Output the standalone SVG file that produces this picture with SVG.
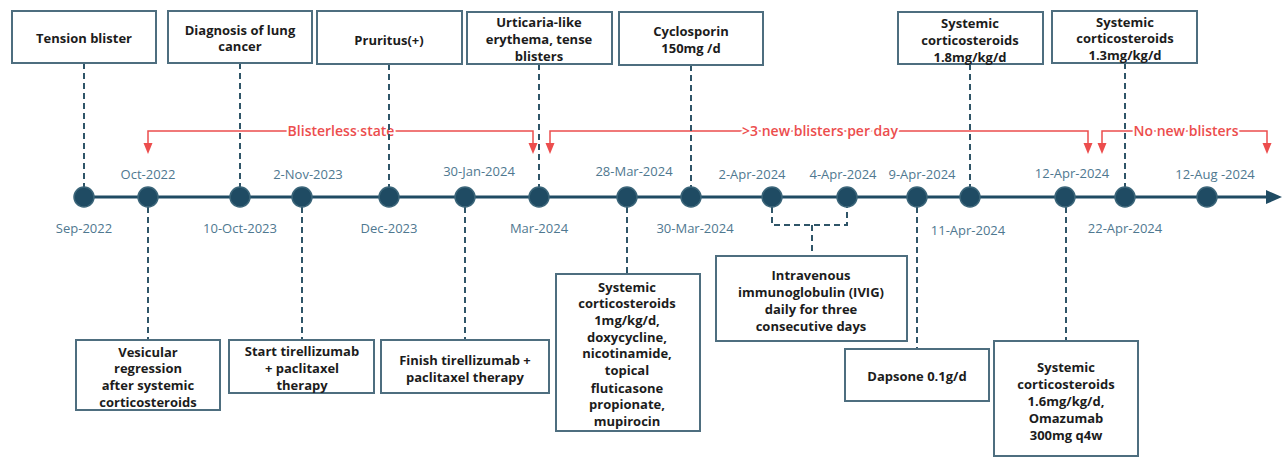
<svg xmlns="http://www.w3.org/2000/svg" xmlns:xlink="http://www.w3.org/1999/xlink" width="1282" height="458" viewBox="0 0 1282 458">
<style>
.box{fill:#fff;stroke:#4e6e7f;stroke-width:2}
.bt{font-family:"Open Sans","Liberation Sans",sans-serif;font-weight:700;font-size:13px;fill:#1c1c1c;text-anchor:middle}
.dl{font-family:"Open Sans","Liberation Sans",sans-serif;font-size:13px;fill:#4f7890;text-anchor:middle}
.dash{fill:none;stroke:#2f5568;stroke-width:2;stroke-dasharray:6 4}
.node{fill:#1f4b63;stroke:#3b6579;stroke-width:1.5}
.red{fill:none;stroke:#ec4d4d;stroke-width:1.5}
.rt{font-family:"Open Sans","Liberation Sans",sans-serif;font-weight:600;font-size:14px;fill:#ec4d4d;text-anchor:middle;stroke:#fff;stroke-width:4;paint-order:stroke}
</style>
<defs>
<path id="ah" d="M-4.5,0 L4.5,0 L0,11 Z" fill="#ec4d4d"/>
</defs>
<rect width="1282" height="458" fill="#fff"/>

<g id="connectors">
<g id="periods">
<path class="red" d="M148,144 V131 H533 V144"/>
<path class="red" d="M550,144 V131 H1088 V144"/>
<path class="red" d="M1102,144 V131 H1267 V144"/>
<use xlink:href="#ah" x="148" y="143"/>
<use xlink:href="#ah" x="533" y="143"/>
<use xlink:href="#ah" x="550" y="143"/>
<use xlink:href="#ah" x="1088" y="143"/>
<use xlink:href="#ah" x="1102" y="143"/>
<use xlink:href="#ah" x="1267" y="143"/>
<text class="rt" x="341" y="136">Blisterless state</text>
<text class="rt" x="820" y="136">&gt;3 new blisters per day</text>
<text class="rt" x="1186" y="136">No new blisters</text>
</g>
<path class="dash" d="M84,63 V188"/>
<path class="dash" d="M240,63 V188"/>
<path class="dash" d="M389,64 V188"/>
<path class="dash" d="M539,64 V188"/>
<path class="dash" d="M691,65 V188"/>
<path class="dash" d="M970,64 V188"/>
<path class="dash" d="M1125,63 V188"/>
<path class="dash" d="M148,207 V340"/>
<path class="dash" d="M302,207 V340"/>
<path class="dash" d="M465,207 V340"/>
<path class="dash" d="M627,207 V274"/>
<path class="dash" d="M772,207 V225 H847 V207"/>
<path class="dash" d="M812,225 V256"/>
<path class="dash" d="M917,207 V349"/>
<path class="dash" d="M1066,207 V341"/>
</g>

<g id="timeline">
<line x1="84" y1="197" x2="1270" y2="197" stroke="#1f4b63" stroke-width="3"/>
<polygon points="1266,190 1282,197 1266,204" fill="#1f4b63"/>
</g>

<g id="n-sep2022"><circle class="node" cx="84" cy="197" r="10"/><text class="dl" x="84" y="233">Sep-2022</text></g>
<g id="n-oct2022"><circle class="node" cx="148" cy="197" r="10"/><text class="dl" x="148" y="179">Oct-2022</text></g>
<g id="n-10oct2023"><circle class="node" cx="240" cy="197" r="10"/><text class="dl" x="240" y="233">10-Oct-2023</text></g>
<g id="n-2nov2023"><circle class="node" cx="302" cy="197" r="10"/><text class="dl" x="308" y="179">2-Nov-2023</text></g>
<g id="n-dec2023"><circle class="node" cx="389" cy="197" r="10"/><text class="dl" x="389" y="233">Dec-2023</text></g>
<g id="n-30jan2024"><circle class="node" cx="465" cy="197" r="10"/><text class="dl" x="479" y="176">30-Jan-2024</text></g>
<g id="n-mar2024"><circle class="node" cx="539" cy="197" r="10"/><text class="dl" x="539" y="233">Mar-2024</text></g>
<g id="n-28mar2024"><circle class="node" cx="627" cy="197" r="10"/><text class="dl" x="634" y="176">28-Mar-2024</text></g>
<g id="n-30mar2024"><circle class="node" cx="691" cy="197" r="10"/><text class="dl" x="695" y="233">30-Mar-2024</text></g>
<g id="n-2apr2024"><circle class="node" cx="772" cy="197" r="10"/><text class="dl" x="752" y="179">2-Apr-2024</text></g>
<g id="n-4apr2024"><circle class="node" cx="847" cy="197" r="10"/><text class="dl" x="843" y="179">4-Apr-2024</text></g>
<g id="n-9apr2024"><circle class="node" cx="917" cy="197" r="10"/><text class="dl" x="922" y="179">9-Apr-2024</text></g>
<g id="n-11apr2024"><circle class="node" cx="970" cy="197" r="10"/><text class="dl" x="968" y="235">11-Apr-2024</text></g>
<g id="n-12apr2024"><circle class="node" cx="1065" cy="197" r="10"/><text class="dl" x="1072" y="178">12-Apr-2024</text></g>
<g id="n-22apr2024"><circle class="node" cx="1125" cy="197" r="10"/><text class="dl" x="1125" y="233">22-Apr-2024</text></g>
<g id="n-12aug2024"><circle class="node" cx="1207" cy="197" r="10"/><text class="dl" x="1215" y="179">12-Aug -2024</text></g>

<g id="b-tension"><rect class="box" x="12" y="11" width="144" height="52"/><text class="bt" x="84" y="43">Tension blister</text></g>
<g id="b-diagnosis"><rect class="box" x="168" y="11" width="144" height="52"/><text class="bt" x="240" y="35">Diagnosis of lung</text><text class="bt" x="240" y="51">cancer</text></g>
<g id="b-pruritus"><rect class="box" x="317" y="11" width="145" height="53"/><text class="bt" x="389" y="45">Pruritus(+)</text></g>
<g id="b-urticaria"><rect class="box" x="467" y="12" width="145" height="52"/><text class="bt" x="539" y="27">Urticaria-like</text><text class="bt" x="539" y="44">erythema, tense</text><text class="bt" x="539" y="61">blisters</text></g>
<g id="b-cyclosporin"><rect class="box" x="619" y="12" width="144" height="53"/><text class="bt" x="691" y="36">Cyclosporin</text><text class="bt" x="691" y="53">150mg /d</text></g>
<g id="b-cs18"><rect class="box" x="898" y="12" width="145" height="52"/><text class="bt" x="970" y="28">Systemic</text><text class="bt" x="970" y="45">corticosteroids</text><text class="bt" x="970" y="62">1.8mg/kg/d</text></g>
<g id="b-cs13"><rect class="box" x="1052" y="11" width="145" height="52"/><text class="bt" x="1125" y="27">Systemic</text><text class="bt" x="1125" y="43">corticosteroids</text><text class="bt" x="1125" y="60">1.3mg/kg/d</text></g>

<g id="b-vesicular"><rect class="box" x="76" y="340" width="144" height="70"/><text class="bt" x="148" y="357">Vesicular</text><text class="bt" x="148" y="373">regression</text><text class="bt" x="148" y="390">after systemic</text><text class="bt" x="148" y="407">corticosteroids</text></g>
<g id="b-start"><rect class="box" x="229" y="340" width="145" height="53"/><text class="bt" x="302" y="356">Start tirellizumab</text><text class="bt" x="302" y="373">+ paclitaxel</text><text class="bt" x="302" y="390">therapy</text></g>
<g id="b-finish"><rect class="box" x="381" y="340" width="168" height="53"/><text class="bt" x="465" y="365">Finish tirellizumab +</text><text class="bt" x="465" y="382">paclitaxel therapy</text></g>
<g id="b-cs1"><rect class="box" x="556" y="274" width="144" height="157"/>
<text class="bt" x="627" y="292">Systemic</text><text class="bt" x="627" y="308">corticosteroids</text><text class="bt" x="627" y="325">1mg/kg/d,</text><text class="bt" x="627" y="342">doxycycline,</text><text class="bt" x="627" y="358">nicotinamide,</text><text class="bt" x="627" y="375">topical</text><text class="bt" x="627" y="393">fluticasone</text><text class="bt" x="627" y="409">propionate,</text><text class="bt" x="627" y="426">mupirocin</text></g>
<g id="b-ivig"><rect class="box" x="716" y="256" width="191" height="85"/><text class="bt" x="811" y="280">Intravenous</text><text class="bt" x="811" y="297">immunoglobulin (IVIG)</text><text class="bt" x="811" y="314">daily for three</text><text class="bt" x="811" y="331">consecutive days</text></g>
<g id="b-dapsone"><rect class="box" x="845" y="349" width="144" height="52"/><text class="bt" x="917" y="381">Dapsone 0.1g/d</text></g>
<g id="b-cs16"><rect class="box" x="994" y="341" width="144" height="115"/><text class="bt" x="1066" y="372">Systemic</text><text class="bt" x="1066" y="389">corticosteroids</text><text class="bt" x="1066" y="406">1.6mg/kg/d,</text><text class="bt" x="1066" y="423">Omazumab</text><text class="bt" x="1066" y="440">300mg q4w</text></g>
</svg>
